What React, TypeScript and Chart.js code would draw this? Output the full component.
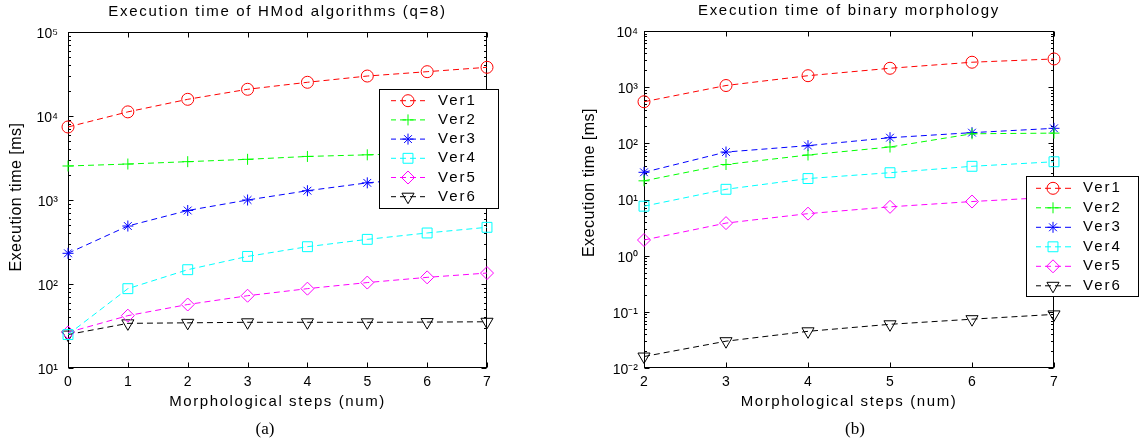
import React, { useEffect, useRef } from 'react';
import { Chart, registerables } from 'chart.js';

Chart.register(...registerables);

const FONT = "'Liberation Sans', Arial, Helvetica, sans-serif";

// ---------- Panel (a) ----------
const titleA = 'Execution time of HMod algorithms (q=8)';
const stepsA = [0, 1, 2, 3, 4, 5, 6, 7];
const ver1A = [7400, 11200, 15800, 20800, 25200, 29900, 33700, 38000];
const ver2A = [2540, 2680, 2860, 3050, 3300, 3450, 3600, 3730];
const ver3A = [232, 490, 750, 1000, 1290, 1600, 1850, 2110];
const ver4A = [25, 88, 148, 213, 278, 340, 405, 473];
const ver5A = [26.5, 42, 57, 72.5, 88, 104, 120, 135];
const ver6A = [25, 34, 34.5, 35, 35, 35, 35.2, 35.5];
const yTickValsA = [10, 100, 1000, 10000, 100000];
const yTickLabelsA = ['10¹', '10²', '10³', '10⁴', '10⁵'];

// ---------- Panel (b) ----------
const titleB = 'Execution time of binary morphology';
const stepsB = [2, 3, 4, 5, 6, 7];
const ver1B = [550, 1070, 1600, 2170, 2780, 3180];
const ver2B = [21.5, 42, 62, 86, 148, 152];
const ver3B = [30.5, 70, 91, 126, 155, 185];
const ver4B = [7.6, 15.2, 23.6, 30, 39, 47];
const ver5B = [1.9, 3.8, 5.6, 7.4, 9.2, 11];
const ver6B = [0.016, 0.03, 0.045, 0.06, 0.074, 0.09];
const yTickValsB = [0.01, 0.1, 1, 10, 100, 1000, 10000];
const yTickLabelsB = ['10⁻²', '10⁻¹', '10⁰', '10¹', '10²', '10³', '10⁴'];

// ---------- shared ----------
const seriesNames = ['Ver1', 'Ver2', 'Ver3', 'Ver4', 'Ver5', 'Ver6'];
const seriesColors = ['#ff0000', '#00ff00', '#0000ff', '#00ffff', '#ff00ff', '#000000'];
const markerStyles = ['circle', 'cross', 'star', 'rect', 'rectRot', 'triangle'];
const markerRadii = [6, 5.5, 5.5, 7, 6.5, 7];
const markerRotations = [0, 0, 0, 0, 0, 180];
const xLabel = 'Morphological steps (num)';
const yLabel = 'Execution time [ms]';
const captions = ['(a)', '(b)'];

function drawMarker(ctx: CanvasRenderingContext2D, style: string, x: number, y: number, r: number, rotDeg: number) {
  ctx.beginPath();
  let rad = (rotDeg * Math.PI) / 180;
  if (style === 'circle') {
    ctx.arc(x, y, r, 0, Math.PI * 2);
  } else if (style === 'cross' || style === 'star') {
    ctx.moveTo(x - r, y); ctx.lineTo(x + r, y);
    ctx.moveTo(x, y - r); ctx.lineTo(x, y + r);
    if (style === 'star') {
      const d = Math.SQRT1_2 * r;
      ctx.moveTo(x - d, y - d); ctx.lineTo(x + d, y + d);
      ctx.moveTo(x + d, y - d); ctx.lineTo(x - d, y + d);
    }
  } else if (style === 'rect') {
    const s = Math.SQRT1_2 * r;
    ctx.rect(x - s, y - s, 2 * s, 2 * s);
  } else if (style === 'rectRot') {
    ctx.moveTo(x - r, y); ctx.lineTo(x, y - r); ctx.lineTo(x + r, y); ctx.lineTo(x, y + r); ctx.closePath();
  } else if (style === 'triangle') {
    ctx.moveTo(x + Math.sin(rad) * r, y - Math.cos(rad) * r);
    rad += (2 * Math.PI) / 3;
    ctx.lineTo(x + Math.sin(rad) * r, y - Math.cos(rad) * r);
    rad += (2 * Math.PI) / 3;
    ctx.lineTo(x + Math.sin(rad) * r, y - Math.cos(rad) * r);
    ctx.closePath();
  }
  ctx.stroke();
}

const spacingPlugin = {
  id: 'spacing',
  beforeDraw(chart: any, _args: any, opts: any) {
    const ctx = chart.ctx;
    ctx.letterSpacing = '0px';
    const wrap = (obj: any, fn: string, sp: string, dy: number) => {
      if (!obj || obj['__p_' + fn]) return;
      const orig = obj[fn];
      obj[fn] = function (...args: any[]) {
        ctx.save();
        ctx.translate(0, dy);
        ctx.letterSpacing = sp;
        orig.apply(this, args);
        ctx.letterSpacing = '0px';
        ctx.restore();
      };
      obj['__p_' + fn] = true;
    };
    wrap(chart.titleBlock, 'draw', '1.7px', 0);
    wrap(chart.scales.x, 'drawTitle', '1.6px', 0);
    wrap(chart.scales.y, 'drawTitle', '0.5px', (opts && opts.yTitleShift) || 0);
  },
};

const framePlugin = {
  id: 'frame',
  beforeDatasetsDraw(chart: any) {
    const { ctx, chartArea: a, scales } = chart;
    const L = Math.round(a.left) + 0.5;
    const R = Math.round(a.right) - 0.5;
    const T = Math.round(a.top) + 0.5;
    const B = Math.round(a.bottom) - 0.5;
    ctx.save();
    ctx.setLineDash([]);
    ctx.strokeStyle = '#000';
    ctx.lineWidth = 1;
    ctx.strokeRect(L, T, R - L, B - T);
    ctx.beginPath();
    for (const t of scales.x.ticks) {
      const px = Math.round(scales.x.getPixelForValue(t.value)) + 0.5;
      ctx.moveTo(px, B); ctx.lineTo(px, B - 5);
      ctx.moveTo(px, T); ctx.lineTo(px, T + 5);
    }
    const ys = scales.y;
    const e0 = Math.round(Math.log10(ys.min));
    const e1 = Math.round(Math.log10(ys.max));
    for (let e = e0; e <= e1; e++) {
      const py = Math.round(ys.getPixelForValue(Math.pow(10, e))) + 0.5;
      ctx.moveTo(L, py); ctx.lineTo(L + 5, py);
      ctx.moveTo(R, py); ctx.lineTo(R - 5, py);
      if (e < e1) {
        for (let m = 2; m <= 9; m++) {
          const pm = Math.round(ys.getPixelForValue(m * Math.pow(10, e))) + 0.5;
          ctx.moveTo(L, pm); ctx.lineTo(L + 2.5, pm);
          ctx.moveTo(R, pm); ctx.lineTo(R - 2.5, pm);
        }
      }
    }
    ctx.stroke();
    ctx.restore();
  },
};

const legendPlugin = {
  id: 'mlegend',
  afterDraw(chart: any, _args: any, opts: any) {
    const ctx = chart.ctx as CanvasRenderingContext2D;
    ctx.save();
    ctx.fillStyle = '#fff';
    ctx.fillRect(opts.x, opts.y, opts.w, opts.h);
    ctx.strokeStyle = '#000';
    ctx.lineWidth = 1;
    ctx.setLineDash([]);
    ctx.strokeRect(opts.x + 0.5, opts.y + 0.5, opts.w - 1, opts.h - 1);
    seriesNames.forEach((name, i) => {
      const cy = opts.y + opts.row0 + i * opts.rowH;
      ctx.strokeStyle = seriesColors[i];
      ctx.lineWidth = 1;
      ctx.setLineDash([6, 4]);
      ctx.lineDashOffset = 1;
      ctx.beginPath();
      ctx.moveTo(opts.x + opts.sx0, cy);
      ctx.lineTo(opts.x + opts.sx1, cy);
      ctx.stroke();
      ctx.setLineDash([]);
      drawMarker(ctx, markerStyles[i], opts.x + opts.mx, cy, markerRadii[i], markerRotations[i]);
      ctx.fillStyle = '#000';
      ctx.font = `15px ${FONT}`;
      (ctx as any).letterSpacing = '2px';
      ctx.textBaseline = 'middle';
      ctx.textAlign = 'left';
      ctx.fillText(name, opts.x + opts.tx, cy);
      (ctx as any).letterSpacing = '0px';
    });
    ctx.restore();
  },
};

function makeConfig(p: any): any {
  const datasets = p.series.map((vals: number[], i: number) => ({
    label: seriesNames[i],
    data: p.steps.map((x: number, j: number) => ({ x, y: vals[j] })),
    borderColor: seriesColors[i],
    borderWidth: 1,
    borderDash: [6, 4],
    pointStyle: markerStyles[i],
    pointRadius: markerRadii[i],
    pointRotation: markerRotations[i],
    pointBorderColor: seriesColors[i],
    pointBorderWidth: 1,
    pointBackgroundColor: 'rgba(0,0,0,0)',
    tension: 0,
    fill: false,
    clip: false,
  }));
  return {
    type: 'line',
    data: { datasets },
    plugins: [spacingPlugin, framePlugin, legendPlugin],
    options: {
      responsive: false,
      animation: false,
      events: [],
      layout: { padding: p.padding },
      plugins: {
        legend: { display: false },
        tooltip: { enabled: false },
        title: {
          display: true,
          text: p.title,
          color: '#000',
          fullSize: false,
          font: { family: FONT, size: 15, weight: 'normal' },
          padding: { top: 0, bottom: 11 },
        },
        mlegend: p.legend,
        spacing: { yTitleShift: p.yTitleShift },
      },
      scales: {
        x: {
          type: 'linear',
          min: p.steps[0],
          max: p.steps[p.steps.length - 1],
          grid: { display: false, drawTicks: false },
          border: { display: false },
          ticks: { stepSize: 1, color: '#000', font: { family: FONT, size: 14 }, padding: 6 },
          title: {
            display: true,
            text: xLabel,
            color: '#000',
            font: { family: FONT, size: 15 },
            padding: { top: 0, bottom: 31 },
          },
          afterFit: (s: any) => { s.height = 74; },
        },
        y: {
          type: 'logarithmic',
          min: p.yVals[0],
          max: p.yVals[p.yVals.length - 1],
          grid: { display: false, drawTicks: false },
          border: { display: false },
          afterBuildTicks: (s: any) => { s.ticks = p.yVals.map((v: number) => ({ value: v })); },
          ticks: {
            autoSkip: false,
            color: '#000',
            font: { family: FONT, size: 14 },
            padding: p.yTickPad,
            labelOffset: 2,
            callback: (v: number) => {
              const idx = p.yVals.findIndex((t: number) => Math.abs(Math.log10(t) - Math.log10(v)) < 1e-6);
              return idx >= 0 ? p.yLabels[idx] : '';
            },
          },
          title: {
            display: true,
            text: yLabel,
            color: '#000',
            font: { family: FONT, size: 16 },
            padding: { top: p.yTitlePad, bottom: 0 },
          },
          afterFit: (s: any) => { s.width = p.yWidth; },
        },
      },
    },
  };
}

export default function App() {
  const refA = useRef<HTMLCanvasElement>(null);
  const refB = useRef<HTMLCanvasElement>(null);

  useEffect(() => {
    const chartA = new Chart(refA.current as HTMLCanvasElement, makeConfig({
      title: titleA,
      steps: stepsA,
      series: [ver1A, ver2A, ver3A, ver4A, ver5A, ver6A],
      yVals: yTickValsA,
      yLabels: yTickLabelsA,
      padding: { top: 3, left: 0, right: 83, bottom: 0 },
      yWidth: 68,
      yTickPad: 10,
      yTitlePad: 7,
      yTitleShift: -3,
      legend: { x: 379, y: 89, w: 120, h: 120, sx0: 12, sx1: 46, mx: 29, tx: 59, row0: 11.7, rowH: 19.2 },
    }));
    const chartB = new Chart(refB.current as HTMLCanvasElement, makeConfig({
      title: titleB,
      steps: stepsB,
      series: [ver1B, ver2B, ver3B, ver4B, ver5B, ver6B],
      yVals: yTickValsB,
      yLabels: yTickLabelsB,
      padding: { top: 2, left: 0, right: 86, bottom: 0 },
      yWidth: 74,
      yTickPad: 6,
      yTitlePad: 10,
      yTitleShift: -17,
      legend: { x: 456, y: 176, w: 113, h: 121, sx0: 10, sx1: 45, mx: 27, tx: 57, row0: 12.3, rowH: 19.5 },
    }));
    return () => { chartA.destroy(); chartB.destroy(); };
  }, []);

  const capStyle: React.CSSProperties = {
    position: 'absolute',
    top: 419,
    width: 60,
    textAlign: 'center',
    font: "17px 'Liberation Serif', 'Times New Roman', serif",
    lineHeight: '20px',
    color: '#000',
  };

  return (
    <div style={{ position: 'fixed', left: 0, top: 0, width: 1140, height: 442, background: '#fff' }}>
      <canvas ref={refA} width={570} height={442} style={{ position: 'absolute', left: 0, top: 0, width: 570, height: 442 }} />
      <canvas ref={refB} width={570} height={442} style={{ position: 'absolute', left: 570, top: 0, width: 570, height: 442 }} />
      <div style={{ ...capStyle, left: 235 }}>{captions[0]}</div>
      <div style={{ ...capStyle, left: 825 }}>{captions[1]}</div>
    </div>
  );
}
